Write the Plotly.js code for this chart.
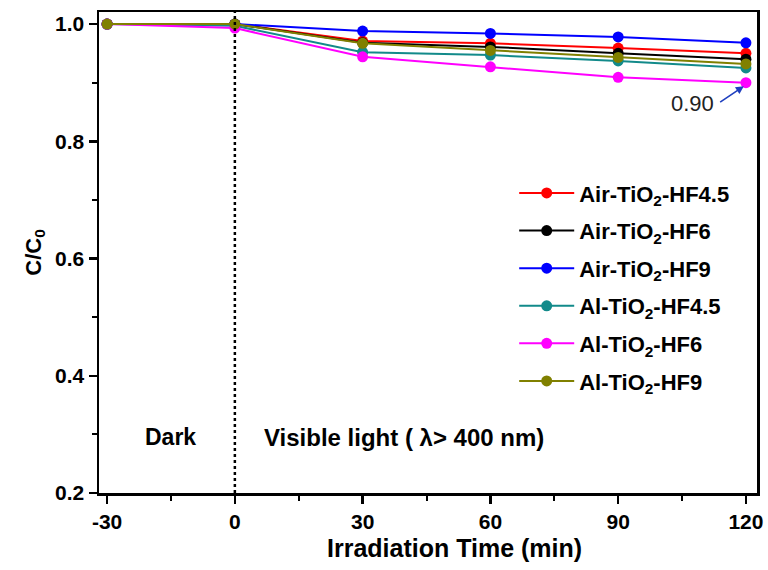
<!DOCTYPE html>
<html>
<head>
<meta charset="utf-8">
<script src="https://cdn.plot.ly/plotly-3.0.1.min.js"></script>
<style>html,body{margin:0;padding:0;background:#fff;}#chart{width:768px;height:570px;}</style>
</head>
<body>
<div id="chart"></div>
<script>
const timeMin = [-30, 0, 30, 60, 90, 120];
const xTickLabels = ["-30", "0", "30", "60", "90", "120"];
const seriesNames = ["Air-TiO<sub>2</sub>-HF4.5", "Air-TiO<sub>2</sub>-HF6", "Air-TiO<sub>2</sub>-HF9",
                     "Al-TiO<sub>2</sub>-HF4.5", "Al-TiO<sub>2</sub>-HF6", "Al-TiO<sub>2</sub>-HF9"];
const airHF45 = [1.0, 1.0, 0.971, 0.967, 0.959, 0.950];
const airHF6  = [1.0, 1.0, 0.968, 0.961, 0.950, 0.940];
const airHF9  = [1.0, 1.0, 0.988, 0.984, 0.978, 0.968];
const alHF45  = [1.0, 0.997, 0.952, 0.947, 0.937, 0.925];
const alHF6   = [1.0, 0.993, 0.944, 0.927, 0.909, 0.900];
const alHF9   = [1.0, 1.0, 0.967, 0.955, 0.943, 0.932];
const seriesValues = [airHF45, airHF6, airHF9, alHF45, alHF6, alHF9];
const seriesColors = ["#ff0000", "#000000", "#0000ff", "#128a8a", "#ff00ff", "#808000"];

const FONT = "Arial, 'Liberation Sans', sans-serif";

const traces = seriesValues.map((vals, i) => ({
  x: timeMin, y: vals, name: seriesNames[i], type: 'scatter', mode: 'lines+markers',
  legendgroup: 'g' + i,
  line: {color: seriesColors[i], width: 2},
  marker: {color: seriesColors[i], size: 11, symbol: 'circle'}
}));

const layout = {
  width: 768, height: 570,
  margin: {l: 99, r: 11, t: 12, b: 77},
  paper_bgcolor: '#fff', plot_bgcolor: '#fff',
  font: {family: FONT, color: '#000'},
  showlegend: true,
  legend: {x: 0.631, y: 0.667, xanchor: 'left', yanchor: 'top', bgcolor: 'rgba(0,0,0,0)',
           font: {family: FONT, size: 22, color: '#000', weight: 'bold'}, tracegroupgap: 6, itemwidth: 55},
  xaxis: {
    range: [-31.9, 122.6], tickmode: 'array', tickvals: timeMin, ticktext: xTickLabels,
    showgrid: false, zeroline: false,
    showline: true, linewidth: 2.5, linecolor: '#000', mirror: true,
    ticks: 'outside', ticklen: 8, tickwidth: 2.5, tickcolor: '#000',
    minor: {dtick: 15, tick0: 0, ticks: 'outside', ticklen: 5, tickwidth: 2, tickcolor: '#000'},
    tickfont: {family: FONT, size: 21, color: '#000', weight: 'bold'}
  },
  yaxis: {
    range: [0.2, 1.0205], tick0: 0.2, dtick: 0.2, tickformat: '.1f', showgrid: false, zeroline: false,
    showline: true, linewidth: 2.5, linecolor: '#000', mirror: true,
    ticks: 'outside', ticklen: 8, tickwidth: 2.5, tickcolor: '#000',
    minor: {dtick: 0.1, tick0: 0.2, ticks: 'outside', ticklen: 5, tickwidth: 2, tickcolor: '#000'},
    tickfont: {family: FONT, size: 21, color: '#000', weight: 'bold'},
    title: {text: 'C/C<sub>0</sub>', standoff: 8, font: {family: FONT, size: 22, color: '#000', weight: 'bold'}}
  },
  shapes: [{type: 'line', xref: 'x', yref: 'paper', x0: 0, x1: 0, y0: 0, y1: 1,
            line: {color: '#000', width: 2.5, dash: 'dot'}}],
  annotations: [
    {xref: 'paper', yref: 'paper', x: 0.541, y: -0.114, yanchor: 'middle', text: 'Irradiation Time (min)',
     showarrow: false, font: {family: FONT, size: 25, color: '#000', weight: 'bold'}},
    {xref: 'x', yref: 'y', x: -15, y: 0.2955, text: 'Dark', showarrow: false,
     font: {family: FONT, size: 23, color: '#000', weight: 'bold'}},
    {xref: 'x', yref: 'y', x: 6.4, y: 0.2955, xanchor: 'left', text: 'Visible light ( λ> 400 nm)', showarrow: false,
     font: {family: FONT, size: 24, color: '#000', weight: 'bold'}},
    {xref: 'x', yref: 'y', x: 107.5, y: 0.865, text: '0.90', showarrow: false,
     font: {family: FONT, size: 22, color: '#222'}},
    {xref: 'x', yref: 'y', x: 119.5, y: 0.894, axref: 'x', ayref: 'y', ax: 113.6, ay: 0.865,
     text: '', showarrow: true, arrowhead: 2, arrowsize: 1, arrowwidth: 1.6, arrowcolor: '#1f3fbf'}
  ]
};

Plotly.newPlot('chart', traces, layout, {displayModeBar: false, staticPlot: true});
</script>
</body>
</html>
